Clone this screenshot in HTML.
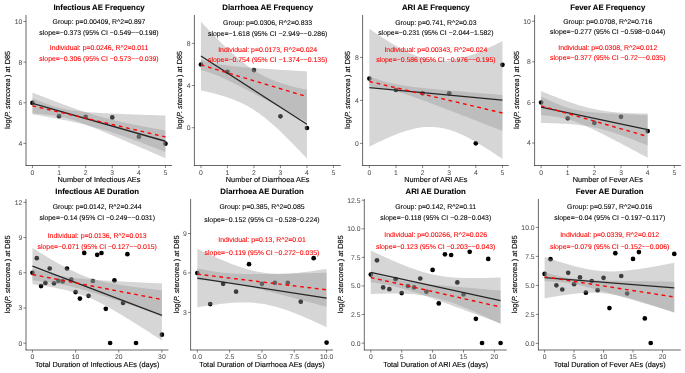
<!DOCTYPE html>
<html><head><meta charset="utf-8"><style>
html,body{margin:0;padding:0;background:#fff;}
svg{display:block;will-change:transform;}
text{font-family:"Liberation Sans", sans-serif;text-rendering:geometricPrecision;}
.ti{font-weight:bold;font-size:7.8px;fill:#000;stroke:#000;stroke-width:0.08px;}
.an{font-size:6.9px;stroke-width:0.08px;}
.al{font-size:7.35px;fill:#000;stroke:#000;stroke-width:0.12px;}
.tk{font-size:6.8px;fill:#4d4d4d;stroke:#4d4d4d;stroke-width:0.03px;}
</style></head><body>
<svg width="685" height="373" viewBox="0 0 685 373">
<rect width="685" height="373" fill="#fff"/>
<circle cx="32.45" cy="102.9" r="2.35" fill="#000"/>
<circle cx="59.05" cy="116.2" r="2.35" fill="#000"/>
<circle cx="85.65" cy="116.9" r="2.35" fill="#000"/>
<circle cx="112.25" cy="117.4" r="2.35" fill="#000"/>
<circle cx="138.85" cy="136.7" r="2.35" fill="#000"/>
<circle cx="165.45" cy="143.7" r="2.35" fill="#000"/>
<polygon points="32.45,92.55 34.67,93.43 36.88,94.3 39.1,95.17 41.32,96.04 43.53,96.9 45.75,97.76 47.97,98.62 50.18,99.47 52.4,100.32 54.62,101.16 56.83,101.99 59.05,102.82 61.27,103.65 63.48,104.47 65.7,105.28 67.92,106.08 70.13,106.88 72.35,107.66 74.57,108.44 76.78,109.21 79,109.96 81.22,110.71 83.43,111.44 85.65,112.16 87.87,112.87 90.08,113.57 92.3,114.25 94.52,114.92 96.73,115.57 98.95,116.21 101.17,116.83 103.38,117.44 105.6,118.04 107.82,118.62 110.03,119.19 112.25,119.74 114.47,120.29 116.68,120.81 118.9,121.33 121.12,121.84 123.33,122.34 125.55,122.82 127.77,123.3 129.98,123.77 132.2,124.23 134.42,124.68 136.63,125.12 138.85,125.56 141.07,126 143.28,126.42 145.5,126.84 147.72,127.26 149.93,127.67 152.15,128.08 154.37,128.48 156.58,128.88 158.8,129.28 161.02,129.67 163.23,130.06 165.45,130.45 165.45,152.05 163.23,151.17 161.02,150.3 158.8,149.43 156.58,148.56 154.37,147.7 152.15,146.84 149.93,145.98 147.72,145.13 145.5,144.28 143.28,143.44 141.07,142.61 138.85,141.78 136.63,140.95 134.42,140.13 132.2,139.32 129.98,138.52 127.77,137.72 125.55,136.94 123.33,136.16 121.12,135.39 118.9,134.64 116.68,133.89 114.47,133.16 112.25,132.44 110.03,131.73 107.82,131.03 105.6,130.35 103.38,129.68 101.17,129.03 98.95,128.39 96.73,127.77 94.52,127.16 92.3,126.56 90.08,125.98 87.87,125.41 85.65,124.86 83.43,124.31 81.22,123.79 79,123.27 76.78,122.76 74.57,122.26 72.35,121.78 70.13,121.3 67.92,120.83 65.7,120.37 63.48,119.92 61.27,119.48 59.05,119.04 56.83,118.6 54.62,118.18 52.4,117.76 50.18,117.34 47.97,116.93 45.75,116.52 43.53,116.12 41.32,115.72 39.1,115.32 36.88,114.93 34.67,114.54 32.45,114.15" fill="#999999" fill-opacity="0.4"/>
<polygon points="32.45,98.31 34.67,99.2 36.88,100.07 39.1,100.94 41.32,101.79 43.53,102.63 45.75,103.44 47.97,104.24 50.18,105.01 52.4,105.75 54.62,106.45 56.83,107.12 59.05,107.74 61.27,108.32 63.48,108.85 65.7,109.33 67.92,109.76 70.13,110.15 72.35,110.5 74.57,110.82 76.78,111.1 79,111.35 81.22,111.58 83.43,111.79 85.65,111.98 87.87,112.16 90.08,112.33 92.3,112.48 94.52,112.62 96.73,112.76 98.95,112.89 101.17,113.01 103.38,113.13 105.6,113.24 107.82,113.35 110.03,113.46 112.25,113.56 114.47,113.66 116.68,113.76 118.9,113.86 121.12,113.95 123.33,114.04 125.55,114.13 127.77,114.22 129.98,114.31 132.2,114.39 134.42,114.48 136.63,114.56 138.85,114.64 141.07,114.72 143.28,114.8 145.5,114.88 147.72,114.96 149.93,115.04 152.15,115.12 154.37,115.2 156.58,115.27 158.8,115.35 161.02,115.43 163.23,115.5 165.45,115.58 165.45,158.26 163.23,157.3 161.02,156.34 158.8,155.37 156.58,154.42 154.37,153.46 152.15,152.5 149.93,151.54 147.72,150.58 145.5,149.62 143.28,148.67 141.07,147.71 138.85,146.76 136.63,145.8 134.42,144.85 132.2,143.9 129.98,142.95 127.77,142 125.55,141.05 123.33,140.1 121.12,139.16 118.9,138.22 116.68,137.28 114.47,136.34 112.25,135.4 110.03,134.47 107.82,133.54 105.6,132.61 103.38,131.69 101.17,130.77 98.95,129.86 96.73,128.95 94.52,128.05 92.3,127.16 90.08,126.28 87.87,125.4 85.65,124.54 83.43,123.7 81.22,122.87 79,122.07 76.78,121.28 74.57,120.53 72.35,119.81 70.13,119.12 67.92,118.47 65.7,117.87 63.48,117.32 61.27,116.81 59.05,116.35 56.83,115.94 54.62,115.57 52.4,115.24 50.18,114.94 47.97,114.67 45.75,114.43 43.53,114.21 41.32,114.01 39.1,113.82 36.88,113.65 34.67,113.49 32.45,113.35" fill="#999999" fill-opacity="0.4"/>
<line x1="32.45" y1="103.35" x2="165.45" y2="141.25" stroke="#262626" stroke-width="1.3"/>
<line x1="32.45" y1="105.83" x2="165.45" y2="136.92" stroke="#ff0000" stroke-width="1.4" stroke-dasharray="3.7 3.7"/>
<line x1="26" y1="15" x2="26" y2="165.8" stroke="#000" stroke-width="0.6"/>
<line x1="25.7" y1="165.5" x2="172.1" y2="165.5" stroke="#000" stroke-width="0.6"/>
<line x1="23.4" y1="143.42" x2="26" y2="143.42" stroke="#333" stroke-width="0.6"/>
<text x="22.2" y="145.82" text-anchor="end" class="tk">4</text>
<line x1="23.4" y1="102.78" x2="26" y2="102.78" stroke="#333" stroke-width="0.6"/>
<text x="22.2" y="105.18" text-anchor="end" class="tk">6</text>
<line x1="23.4" y1="62.14" x2="26" y2="62.14" stroke="#333" stroke-width="0.6"/>
<text x="22.2" y="64.54" text-anchor="end" class="tk">8</text>
<line x1="23.4" y1="21.5" x2="26" y2="21.5" stroke="#333" stroke-width="0.6"/>
<text x="22.2" y="23.9" text-anchor="end" class="tk">10</text>
<line x1="32.45" y1="165.5" x2="32.45" y2="168.1" stroke="#333" stroke-width="0.6"/>
<text x="32.45" y="174.7" text-anchor="middle" class="tk">0</text>
<line x1="59.05" y1="165.5" x2="59.05" y2="168.1" stroke="#333" stroke-width="0.6"/>
<text x="59.05" y="174.7" text-anchor="middle" class="tk">1</text>
<line x1="85.65" y1="165.5" x2="85.65" y2="168.1" stroke="#333" stroke-width="0.6"/>
<text x="85.65" y="174.7" text-anchor="middle" class="tk">2</text>
<line x1="112.25" y1="165.5" x2="112.25" y2="168.1" stroke="#333" stroke-width="0.6"/>
<text x="112.25" y="174.7" text-anchor="middle" class="tk">3</text>
<line x1="138.85" y1="165.5" x2="138.85" y2="168.1" stroke="#333" stroke-width="0.6"/>
<text x="138.85" y="174.7" text-anchor="middle" class="tk">4</text>
<line x1="165.45" y1="165.5" x2="165.45" y2="168.1" stroke="#333" stroke-width="0.6"/>
<text x="165.45" y="174.7" text-anchor="middle" class="tk">5</text>
<text x="99" y="9.7" text-anchor="middle" class="ti">Infectious AE Frequency</text>
<text x="99" y="24.25" text-anchor="middle" class="an" fill="#000000" stroke="#000000">Group: p=0.00409, R^2=0.897</text>
<text x="99" y="34.65" text-anchor="middle" class="an" fill="#000000" stroke="#000000">slope=−0.373 (95% CI −0.549−−0.198)</text>
<text x="99" y="49.8" text-anchor="middle" class="an" fill="#ff0000" stroke="#ff0000">Individual: p=0.0246, R^2=0.011</text>
<text x="99" y="60.5" text-anchor="middle" class="an" fill="#ff0000" stroke="#ff0000">slope=−0.306 (95% CI −0.573−−0.039)</text>
<text x="99" y="182.2" text-anchor="middle" class="al">Number of Infectious AEs</text>
<text transform="translate(10,90) rotate(-90)" text-anchor="middle" class="al" textLength="78.2" lengthAdjust="spacingAndGlyphs">log(<tspan font-style="italic">P. stercorea</tspan> ) at D85</text>
<circle cx="200.95" cy="64.5" r="2.35" fill="#000"/>
<circle cx="227.45" cy="71.8" r="2.35" fill="#000"/>
<circle cx="253.95" cy="70.1" r="2.35" fill="#000"/>
<circle cx="280.45" cy="116.3" r="2.35" fill="#000"/>
<circle cx="306.95" cy="128" r="2.35" fill="#000"/>
<polygon points="200.95,21.66 202.72,23.55 204.48,25.44 206.25,27.32 208.02,29.19 209.78,31.04 211.55,32.89 213.32,34.72 215.08,36.53 216.85,38.34 218.62,40.12 220.38,41.89 222.15,43.65 223.92,45.38 225.68,47.09 227.45,48.78 229.22,50.44 230.98,52.08 232.75,53.69 234.52,55.28 236.28,56.83 238.05,58.35 239.82,59.83 241.58,61.28 243.35,62.69 245.12,64.06 246.88,65.4 248.65,66.68 250.42,67.93 252.18,69.13 253.95,70.29 255.72,71.41 257.48,72.48 259.25,73.51 261.02,74.49 262.78,75.43 264.55,76.34 266.32,77.2 268.08,78.02 269.85,78.81 271.62,79.57 273.38,80.29 275.15,80.98 276.92,81.64 278.68,82.28 280.45,82.89 282.22,83.47 283.98,84.03 285.75,84.58 287.52,85.1 289.28,85.6 291.05,86.09 292.82,86.56 294.58,87.02 296.35,87.46 298.12,87.89 299.88,88.3 301.65,88.71 303.42,89.11 305.18,89.49 306.95,89.87 306.95,158.62 305.18,156.73 303.42,154.84 301.65,152.96 299.88,151.09 298.12,149.24 296.35,147.39 294.58,145.56 292.82,143.75 291.05,141.94 289.28,140.16 287.52,138.39 285.75,136.63 283.98,134.9 282.22,133.19 280.45,131.5 278.68,129.84 276.92,128.2 275.15,126.59 273.38,125 271.62,123.45 269.85,121.93 268.08,120.45 266.32,119 264.55,117.59 262.78,116.22 261.02,114.88 259.25,113.6 257.48,112.35 255.72,111.15 253.95,109.99 252.18,108.87 250.42,107.8 248.65,106.77 246.88,105.79 245.12,104.85 243.35,103.94 241.58,103.08 239.82,102.26 238.05,101.47 236.28,100.71 234.52,99.99 232.75,99.3 230.98,98.64 229.22,98 227.45,97.39 225.68,96.81 223.92,96.25 222.15,95.7 220.38,95.18 218.62,94.68 216.85,94.19 215.08,93.72 213.32,93.26 211.55,92.82 209.78,92.39 208.02,91.98 206.25,91.57 204.48,91.17 202.72,90.79 200.95,90.41" fill="#999999" fill-opacity="0.4"/>
<polygon points="200.95,59.61 202.72,60.24 204.48,60.82 206.25,61.38 208.02,61.89 209.78,62.37 211.55,62.81 213.32,63.22 215.08,63.59 216.85,63.94 218.62,64.26 220.38,64.56 222.15,64.84 223.92,65.09 225.68,65.33 227.45,65.56 229.22,65.77 230.98,65.97 232.75,66.17 234.52,66.35 236.28,66.53 238.05,66.69 239.82,66.86 241.58,67.01 243.35,67.17 245.12,67.31 246.88,67.46 248.65,67.6 250.42,67.74 252.18,67.87 253.95,68 255.72,68.13 257.48,68.26 259.25,68.38 261.02,68.51 262.78,68.63 264.55,68.75 266.32,68.87 268.08,68.99 269.85,69.1 271.62,69.22 273.38,69.33 275.15,69.45 276.92,69.56 278.68,69.67 280.45,69.78 282.22,69.89 283.98,70 285.75,70.11 287.52,70.22 289.28,70.33 291.05,70.43 292.82,70.54 294.58,70.65 296.35,70.75 298.12,70.86 299.88,70.96 301.65,71.07 303.42,71.17 305.18,71.27 306.95,71.38 306.95,121.96 305.18,121.01 303.42,120.05 301.65,119.09 299.88,118.14 298.12,117.19 296.35,116.23 294.58,115.28 292.82,114.32 291.05,113.37 289.28,112.42 287.52,111.47 285.75,110.52 283.98,109.56 282.22,108.61 280.45,107.66 278.68,106.72 276.92,105.77 275.15,104.82 273.38,103.87 271.62,102.93 269.85,101.99 268.08,101.04 266.32,100.1 264.55,99.16 262.78,98.22 261.02,97.28 259.25,96.35 257.48,95.41 255.72,94.48 253.95,93.55 252.18,92.62 250.42,91.7 248.65,90.77 246.88,89.86 245.12,88.94 243.35,88.03 241.58,87.12 239.82,86.22 238.05,85.32 236.28,84.43 234.52,83.55 232.75,82.67 230.98,81.8 229.22,80.94 227.45,80.1 225.68,79.26 223.92,78.45 222.15,77.64 220.38,76.86 218.62,76.1 216.85,75.36 215.08,74.65 213.32,73.96 211.55,73.31 209.78,72.69 208.02,72.11 206.25,71.57 204.48,71.06 202.72,70.59 200.95,70.15" fill="#999999" fill-opacity="0.4"/>
<line x1="200.95" y1="56.03" x2="306.95" y2="124.25" stroke="#262626" stroke-width="1.3"/>
<line x1="200.95" y1="64.88" x2="306.95" y2="96.67" stroke="#ff0000" stroke-width="1.4" stroke-dasharray="3.7 3.7"/>
<line x1="194.4" y1="15" x2="194.4" y2="165.8" stroke="#000" stroke-width="0.6"/>
<line x1="194.1" y1="165.5" x2="340.8" y2="165.5" stroke="#000" stroke-width="0.6"/>
<line x1="191.8" y1="127.7" x2="194.4" y2="127.7" stroke="#333" stroke-width="0.6"/>
<text x="190.6" y="130.1" text-anchor="end" class="tk">0</text>
<line x1="191.8" y1="85.54" x2="194.4" y2="85.54" stroke="#333" stroke-width="0.6"/>
<text x="190.6" y="87.94" text-anchor="end" class="tk">4</text>
<line x1="191.8" y1="43.38" x2="194.4" y2="43.38" stroke="#333" stroke-width="0.6"/>
<text x="190.6" y="45.78" text-anchor="end" class="tk">8</text>
<line x1="200.95" y1="165.5" x2="200.95" y2="168.1" stroke="#333" stroke-width="0.6"/>
<text x="200.95" y="174.7" text-anchor="middle" class="tk">0</text>
<line x1="227.45" y1="165.5" x2="227.45" y2="168.1" stroke="#333" stroke-width="0.6"/>
<text x="227.45" y="174.7" text-anchor="middle" class="tk">1</text>
<line x1="253.95" y1="165.5" x2="253.95" y2="168.1" stroke="#333" stroke-width="0.6"/>
<text x="253.95" y="174.7" text-anchor="middle" class="tk">2</text>
<line x1="280.45" y1="165.5" x2="280.45" y2="168.1" stroke="#333" stroke-width="0.6"/>
<text x="280.45" y="174.7" text-anchor="middle" class="tk">3</text>
<line x1="306.95" y1="165.5" x2="306.95" y2="168.1" stroke="#333" stroke-width="0.6"/>
<text x="306.95" y="174.7" text-anchor="middle" class="tk">4</text>
<line x1="333.45" y1="165.5" x2="333.45" y2="168.1" stroke="#333" stroke-width="0.6"/>
<text x="333.45" y="174.7" text-anchor="middle" class="tk">5</text>
<text x="267.65" y="9.7" text-anchor="middle" class="ti">Diarrhoea AE Frequency</text>
<text x="267.65" y="25.1" text-anchor="middle" class="an" fill="#000000" stroke="#000000">Group: p=0.0306, R^2=0.833</text>
<text x="267.65" y="35.6" text-anchor="middle" class="an" fill="#000000" stroke="#000000">slope=−1.618 (95% CI −2.949−−0.286)</text>
<text x="267.65" y="51.65" text-anchor="middle" class="an" fill="#ff0000" stroke="#ff0000">Individual: p=0.0173, R^2=0.024</text>
<text x="267.65" y="62.1" text-anchor="middle" class="an" fill="#ff0000" stroke="#ff0000">slope=−0.754 (95% CI −1.374−−0.135)</text>
<text x="267.65" y="182.2" text-anchor="middle" class="al">Number of Diarrhoea AEs</text>
<text transform="translate(182,90) rotate(-90)" text-anchor="middle" class="al" textLength="78.2" lengthAdjust="spacingAndGlyphs">log(<tspan font-style="italic">P. stercorea</tspan> ) at D85</text>
<circle cx="369.35" cy="78.6" r="2.35" fill="#000"/>
<circle cx="395.97" cy="90" r="2.35" fill="#000"/>
<circle cx="422.59" cy="93.3" r="2.35" fill="#000"/>
<circle cx="449.21" cy="93.3" r="2.35" fill="#000"/>
<circle cx="475.83" cy="143.3" r="2.35" fill="#000"/>
<circle cx="502.45" cy="64.8" r="2.35" fill="#000"/>
<polygon points="369.35,28.67 371.57,30.21 373.79,31.73 376,33.24 378.22,34.73 380.44,36.21 382.66,37.66 384.88,39.09 387.1,40.5 389.31,41.88 391.53,43.24 393.75,44.56 395.97,45.86 398.19,47.12 400.41,48.34 402.62,49.53 404.84,50.68 407.06,51.78 409.28,52.83 411.5,53.83 413.72,54.78 415.94,55.67 418.15,56.5 420.37,57.26 422.59,57.96 424.81,58.59 427.03,59.14 429.25,59.62 431.46,60.03 433.68,60.35 435.9,60.6 438.12,60.77 440.34,60.85 442.56,60.86 444.77,60.8 446.99,60.66 449.21,60.44 451.43,60.16 453.65,59.81 455.87,59.39 458.08,58.92 460.3,58.38 462.52,57.8 464.74,57.16 466.96,56.47 469.18,55.74 471.39,54.97 473.61,54.16 475.83,53.31 478.05,52.43 480.27,51.51 482.49,50.57 484.7,49.6 486.92,48.61 489.14,47.59 491.36,46.55 493.58,45.49 495.8,44.42 498.01,43.32 500.23,42.21 502.45,41.08 502.45,159.1 500.23,157.56 498.01,156.03 495.8,154.52 493.58,153.03 491.36,151.56 489.14,150.11 486.92,148.68 484.7,147.27 482.49,145.89 480.27,144.53 478.05,143.2 475.83,141.91 473.61,140.65 471.39,139.42 469.18,138.24 466.96,137.09 464.74,135.99 462.52,134.94 460.3,133.94 458.08,132.99 455.87,132.1 453.65,131.27 451.43,130.51 449.21,129.81 446.99,129.18 444.77,128.62 442.56,128.14 440.34,127.74 438.12,127.41 435.9,127.17 433.68,127 431.46,126.91 429.25,126.9 427.03,126.97 424.81,127.11 422.59,127.32 420.37,127.61 418.15,127.96 415.94,128.37 413.72,128.85 411.5,129.38 409.28,129.97 407.06,130.61 404.84,131.3 402.62,132.03 400.41,132.8 398.19,133.61 395.97,134.46 393.75,135.34 391.53,136.25 389.31,137.19 387.1,138.16 384.88,139.16 382.66,140.17 380.44,141.21 378.22,142.27 376,143.35 373.79,144.44 371.57,145.56 369.35,146.68" fill="#999999" fill-opacity="0.4"/>
<polygon points="369.35,76.64 371.57,77.4 373.79,78.14 376,78.87 378.22,79.58 380.44,80.26 382.66,80.92 384.88,81.55 387.1,82.15 389.31,82.71 391.53,83.24 393.75,83.73 395.97,84.19 398.19,84.62 400.41,85.02 402.62,85.39 404.84,85.74 407.06,86.06 409.28,86.37 411.5,86.66 413.72,86.94 415.94,87.21 418.15,87.46 420.37,87.71 422.59,87.95 424.81,88.19 427.03,88.42 429.25,88.64 431.46,88.86 433.68,89.07 435.9,89.29 438.12,89.5 440.34,89.7 442.56,89.91 444.77,90.11 446.99,90.31 449.21,90.51 451.43,90.7 453.65,90.9 455.87,91.09 458.08,91.29 460.3,91.48 462.52,91.67 464.74,91.86 466.96,92.05 469.18,92.24 471.39,92.43 473.61,92.61 475.83,92.8 478.05,92.99 480.27,93.17 482.49,93.36 484.7,93.54 486.92,93.73 489.14,93.91 491.36,94.09 493.58,94.28 495.8,94.46 498.01,94.64 500.23,94.82 502.45,95 502.45,130.95 500.23,130.08 498.01,129.21 495.8,128.35 493.58,127.48 491.36,126.61 489.14,125.75 486.92,124.88 484.7,124.01 482.49,123.15 480.27,122.28 478.05,121.42 475.83,120.56 473.61,119.69 471.39,118.83 469.18,117.97 466.96,117.11 464.74,116.25 462.52,115.39 460.3,114.53 458.08,113.67 455.87,112.81 453.65,111.96 451.43,111.1 449.21,110.25 446.99,109.4 444.77,108.55 442.56,107.7 440.34,106.86 438.12,106.01 435.9,105.17 433.68,104.33 431.46,103.5 429.25,102.67 427.03,101.84 424.81,101.02 422.59,100.21 420.37,99.4 418.15,98.59 415.94,97.8 413.72,97.02 411.5,96.25 409.28,95.49 407.06,94.75 404.84,94.02 402.62,93.32 400.41,92.64 398.19,91.99 395.97,91.37 393.75,90.78 391.53,90.22 389.31,89.7 387.1,89.21 384.88,88.76 382.66,88.34 380.44,87.95 378.22,87.58 376,87.24 373.79,86.91 371.57,86.61 369.35,86.32" fill="#999999" fill-opacity="0.4"/>
<line x1="369.35" y1="87.68" x2="502.45" y2="100.09" stroke="#262626" stroke-width="1.3"/>
<line x1="369.35" y1="81.48" x2="502.45" y2="112.98" stroke="#ff0000" stroke-width="1.4" stroke-dasharray="3.7 3.7"/>
<line x1="362.6" y1="15" x2="362.6" y2="165.8" stroke="#000" stroke-width="0.6"/>
<line x1="362.3" y1="165.5" x2="508.8" y2="165.5" stroke="#000" stroke-width="0.6"/>
<line x1="360" y1="143.4" x2="362.6" y2="143.4" stroke="#333" stroke-width="0.6"/>
<text x="358.8" y="145.8" text-anchor="end" class="tk">0</text>
<line x1="360" y1="100.4" x2="362.6" y2="100.4" stroke="#333" stroke-width="0.6"/>
<text x="358.8" y="102.8" text-anchor="end" class="tk">4</text>
<line x1="360" y1="57.4" x2="362.6" y2="57.4" stroke="#333" stroke-width="0.6"/>
<text x="358.8" y="59.8" text-anchor="end" class="tk">8</text>
<line x1="369.35" y1="165.5" x2="369.35" y2="168.1" stroke="#333" stroke-width="0.6"/>
<text x="369.35" y="174.7" text-anchor="middle" class="tk">0</text>
<line x1="395.97" y1="165.5" x2="395.97" y2="168.1" stroke="#333" stroke-width="0.6"/>
<text x="395.97" y="174.7" text-anchor="middle" class="tk">1</text>
<line x1="422.59" y1="165.5" x2="422.59" y2="168.1" stroke="#333" stroke-width="0.6"/>
<text x="422.59" y="174.7" text-anchor="middle" class="tk">2</text>
<line x1="449.21" y1="165.5" x2="449.21" y2="168.1" stroke="#333" stroke-width="0.6"/>
<text x="449.21" y="174.7" text-anchor="middle" class="tk">3</text>
<line x1="475.83" y1="165.5" x2="475.83" y2="168.1" stroke="#333" stroke-width="0.6"/>
<text x="475.83" y="174.7" text-anchor="middle" class="tk">4</text>
<line x1="502.45" y1="165.5" x2="502.45" y2="168.1" stroke="#333" stroke-width="0.6"/>
<text x="502.45" y="174.7" text-anchor="middle" class="tk">5</text>
<text x="435.85" y="9.7" text-anchor="middle" class="ti">ARI AE Frequency</text>
<text x="435.85" y="25" text-anchor="middle" class="an" fill="#000000" stroke="#000000">Group: p=0.741, R^2=0.03</text>
<text x="435.85" y="35.3" text-anchor="middle" class="an" fill="#000000" stroke="#000000">slope=−0.231 (95% CI −2.044−1.582)</text>
<text x="435.85" y="51.5" text-anchor="middle" class="an" fill="#ff0000" stroke="#ff0000">Individual: p=0.00343, R^2=0.024</text>
<text x="435.85" y="62.25" text-anchor="middle" class="an" fill="#ff0000" stroke="#ff0000">slope=−0.586 (95% CI −0.976−−0.195)</text>
<text x="435.85" y="182.2" text-anchor="middle" class="al">Number of ARI AEs</text>
<text transform="translate(350.4,90) rotate(-90)" text-anchor="middle" class="al" textLength="78.2" lengthAdjust="spacingAndGlyphs">log(<tspan font-style="italic">P. stercorea</tspan> ) at D85</text>
<circle cx="541.1" cy="102.5" r="2.35" fill="#000"/>
<circle cx="567.74" cy="118.3" r="2.35" fill="#000"/>
<circle cx="594.38" cy="122.9" r="2.35" fill="#000"/>
<circle cx="621.02" cy="116.8" r="2.35" fill="#000"/>
<circle cx="647.66" cy="131.1" r="2.35" fill="#000"/>
<polygon points="541.1,91.11 542.88,91.84 544.65,92.56 546.43,93.28 548.2,94 549.98,94.7 551.76,95.41 553.53,96.11 555.31,96.8 557.08,97.48 558.86,98.16 560.64,98.83 562.41,99.49 564.19,100.14 565.96,100.78 567.74,101.41 569.52,102.03 571.29,102.64 573.07,103.23 574.84,103.82 576.62,104.38 578.4,104.94 580.17,105.47 581.95,105.99 583.72,106.49 585.5,106.98 587.28,107.44 589.05,107.89 590.83,108.31 592.6,108.72 594.38,109.1 596.16,109.47 597.93,109.81 599.71,110.14 601.48,110.44 603.26,110.73 605.04,110.99 606.81,111.24 608.59,111.47 610.36,111.68 612.14,111.88 613.92,112.06 615.69,112.23 617.47,112.39 619.24,112.53 621.02,112.66 622.8,112.78 624.57,112.88 626.35,112.98 628.12,113.07 629.9,113.15 631.68,113.23 633.45,113.29 635.23,113.35 637,113.4 638.78,113.45 640.56,113.49 642.33,113.53 644.11,113.56 645.88,113.58 647.66,113.6 647.66,145.53 645.88,144.8 644.11,144.08 642.33,143.36 640.56,142.64 638.78,141.94 637,141.23 635.23,140.53 633.45,139.84 631.68,139.16 629.9,138.48 628.12,137.81 626.35,137.15 624.57,136.5 622.8,135.86 621.02,135.23 619.24,134.61 617.47,134 615.69,133.41 613.92,132.82 612.14,132.26 610.36,131.7 608.59,131.17 606.81,130.65 605.04,130.15 603.26,129.66 601.48,129.2 599.71,128.75 597.93,128.33 596.16,127.92 594.38,127.54 592.6,127.17 590.83,126.83 589.05,126.5 587.28,126.2 585.5,125.91 583.72,125.65 581.95,125.4 580.17,125.17 578.4,124.96 576.62,124.76 574.84,124.58 573.07,124.41 571.29,124.25 569.52,124.11 567.74,123.98 565.96,123.86 564.19,123.76 562.41,123.66 560.64,123.57 558.86,123.49 557.08,123.41 555.31,123.35 553.53,123.29 551.76,123.24 549.98,123.19 548.2,123.15 546.43,123.11 544.65,123.08 542.88,123.06 541.1,123.04" fill="#999999" fill-opacity="0.4"/>
<polygon points="541.1,96.54 542.88,97.41 544.65,98.27 546.43,99.12 548.2,99.95 549.98,100.77 551.76,101.58 553.53,102.37 555.31,103.13 557.08,103.87 558.86,104.59 560.64,105.28 562.41,105.94 564.19,106.57 565.96,107.16 567.74,107.72 569.52,108.24 571.29,108.72 573.07,109.17 574.84,109.58 576.62,109.95 578.4,110.3 580.17,110.61 581.95,110.9 583.72,111.17 585.5,111.41 587.28,111.64 589.05,111.85 590.83,112.04 592.6,112.22 594.38,112.38 596.16,112.54 597.93,112.69 599.71,112.82 601.48,112.96 603.26,113.08 605.04,113.2 606.81,113.31 608.59,113.42 610.36,113.52 612.14,113.62 613.92,113.72 615.69,113.81 617.47,113.9 619.24,113.99 621.02,114.07 622.8,114.16 624.57,114.24 626.35,114.32 628.12,114.39 629.9,114.47 631.68,114.54 633.45,114.61 635.23,114.69 637,114.76 638.78,114.82 640.56,114.89 642.33,114.96 644.11,115.03 645.88,115.09 647.66,115.16 647.66,157.77 645.88,156.82 644.11,155.86 642.33,154.91 640.56,153.95 638.78,153 637,152.05 635.23,151.1 633.45,150.15 631.68,149.2 629.9,148.25 628.12,147.31 626.35,146.37 624.57,145.42 622.8,144.48 621.02,143.55 619.24,142.61 617.47,141.68 615.69,140.75 613.92,139.82 612.14,138.9 610.36,137.98 608.59,137.06 606.81,136.15 605.04,135.24 603.26,134.34 601.48,133.44 599.71,132.55 597.93,131.67 596.16,130.8 594.38,129.93 592.6,129.08 590.83,128.24 589.05,127.41 587.28,126.59 585.5,125.8 583.72,125.02 581.95,124.27 580.17,123.54 578.4,122.83 576.62,122.16 574.84,121.51 573.07,120.9 571.29,120.33 569.52,119.79 567.74,119.29 565.96,118.83 564.19,118.4 562.41,118 560.64,117.64 558.86,117.31 557.08,117.01 555.31,116.73 553.53,116.48 551.76,116.25 549.98,116.03 548.2,115.83 546.43,115.64 544.65,115.47 542.88,115.31 541.1,115.16" fill="#999999" fill-opacity="0.4"/>
<line x1="541.1" y1="107.07" x2="647.66" y2="129.57" stroke="#262626" stroke-width="1.3"/>
<line x1="541.1" y1="105.85" x2="647.66" y2="136.46" stroke="#ff0000" stroke-width="1.4" stroke-dasharray="3.7 3.7"/>
<line x1="534.6" y1="15" x2="534.6" y2="165.8" stroke="#000" stroke-width="0.6"/>
<line x1="534.3" y1="165.5" x2="680.9" y2="165.5" stroke="#000" stroke-width="0.6"/>
<line x1="532" y1="143" x2="534.6" y2="143" stroke="#333" stroke-width="0.6"/>
<text x="530.8" y="145.4" text-anchor="end" class="tk">4</text>
<line x1="532" y1="102.4" x2="534.6" y2="102.4" stroke="#333" stroke-width="0.6"/>
<text x="530.8" y="104.8" text-anchor="end" class="tk">6</text>
<line x1="532" y1="61.8" x2="534.6" y2="61.8" stroke="#333" stroke-width="0.6"/>
<text x="530.8" y="64.2" text-anchor="end" class="tk">8</text>
<line x1="532" y1="21.2" x2="534.6" y2="21.2" stroke="#333" stroke-width="0.6"/>
<text x="530.8" y="23.6" text-anchor="end" class="tk">10</text>
<line x1="541.1" y1="165.5" x2="541.1" y2="168.1" stroke="#333" stroke-width="0.6"/>
<text x="541.1" y="174.7" text-anchor="middle" class="tk">0</text>
<line x1="567.74" y1="165.5" x2="567.74" y2="168.1" stroke="#333" stroke-width="0.6"/>
<text x="567.74" y="174.7" text-anchor="middle" class="tk">1</text>
<line x1="594.38" y1="165.5" x2="594.38" y2="168.1" stroke="#333" stroke-width="0.6"/>
<text x="594.38" y="174.7" text-anchor="middle" class="tk">2</text>
<line x1="621.02" y1="165.5" x2="621.02" y2="168.1" stroke="#333" stroke-width="0.6"/>
<text x="621.02" y="174.7" text-anchor="middle" class="tk">3</text>
<line x1="647.66" y1="165.5" x2="647.66" y2="168.1" stroke="#333" stroke-width="0.6"/>
<text x="647.66" y="174.7" text-anchor="middle" class="tk">4</text>
<line x1="674.3" y1="165.5" x2="674.3" y2="168.1" stroke="#333" stroke-width="0.6"/>
<text x="674.3" y="174.7" text-anchor="middle" class="tk">5</text>
<text x="607.75" y="9.65" text-anchor="middle" class="ti">Fever AE Frequency</text>
<text x="607.75" y="24.1" text-anchor="middle" class="an" fill="#000000" stroke="#000000">Group: p=0.0708, R^2=0.716</text>
<text x="607.75" y="34.1" text-anchor="middle" class="an" fill="#000000" stroke="#000000">slope=−0.277 (95% CI −0.598−0.044)</text>
<text x="607.75" y="49.6" text-anchor="middle" class="an" fill="#ff0000" stroke="#ff0000">Individual: p=0.0308, R^2=0.012</text>
<text x="607.75" y="59.9" text-anchor="middle" class="an" fill="#ff0000" stroke="#ff0000">slope=−0.377 (95% CI −0.72−−0.035)</text>
<text x="607.75" y="182.2" text-anchor="middle" class="al">Number of Fever AEs</text>
<text transform="translate(518.7,90) rotate(-90)" text-anchor="middle" class="al" textLength="78.2" lengthAdjust="spacingAndGlyphs">log(<tspan font-style="italic">P. stercorea</tspan> ) at D85</text>
<circle cx="32.45" cy="272.8" r="2.35" fill="#000"/>
<circle cx="36.77" cy="258.2" r="2.35" fill="#000"/>
<circle cx="41.08" cy="286.1" r="2.35" fill="#000"/>
<circle cx="45.4" cy="282.9" r="2.35" fill="#000"/>
<circle cx="49.71" cy="268.5" r="2.35" fill="#000"/>
<circle cx="54.03" cy="283.3" r="2.35" fill="#000"/>
<circle cx="58.34" cy="280.8" r="2.35" fill="#000"/>
<circle cx="62.66" cy="281.4" r="2.35" fill="#000"/>
<circle cx="66.97" cy="268.5" r="2.35" fill="#000"/>
<circle cx="71.28" cy="279.7" r="2.35" fill="#000"/>
<circle cx="75.6" cy="292.1" r="2.35" fill="#000"/>
<circle cx="79.92" cy="298.6" r="2.35" fill="#000"/>
<circle cx="84.23" cy="252.9" r="2.35" fill="#000"/>
<circle cx="88.55" cy="295.8" r="2.35" fill="#000"/>
<circle cx="92.86" cy="281" r="2.35" fill="#000"/>
<circle cx="97.18" cy="254.8" r="2.35" fill="#000"/>
<circle cx="101.49" cy="253" r="2.35" fill="#000"/>
<circle cx="105.81" cy="308.8" r="2.35" fill="#000"/>
<circle cx="110.12" cy="343" r="2.35" fill="#000"/>
<circle cx="114.44" cy="280.4" r="2.35" fill="#000"/>
<circle cx="123.07" cy="302.9" r="2.35" fill="#000"/>
<circle cx="127.38" cy="254.2" r="2.35" fill="#000"/>
<circle cx="136.01" cy="343" r="2.35" fill="#000"/>
<circle cx="161.9" cy="334.7" r="2.35" fill="#000"/>
<polygon points="32.45,247.84 34.61,249.2 36.77,250.54 38.92,251.88 41.08,253.22 43.24,254.54 45.4,255.85 47.55,257.15 49.71,258.44 51.87,259.71 54.03,260.97 56.18,262.21 58.34,263.43 60.5,264.63 62.66,265.81 64.81,266.96 66.97,268.09 69.13,269.19 71.28,270.26 73.44,271.29 75.6,272.29 77.76,273.25 79.92,274.17 82.07,275.05 84.23,275.88 86.39,276.68 88.55,277.44 90.7,278.16 92.86,278.83 95.02,279.47 97.18,280.08 99.33,280.65 101.49,281.19 103.65,281.7 105.81,282.19 107.96,282.65 110.12,283.09 112.28,283.51 114.44,283.91 116.59,284.29 118.75,284.66 120.91,285.01 123.07,285.35 125.22,285.68 127.38,286 129.54,286.31 131.69,286.62 133.85,286.91 136.01,287.2 138.17,287.48 140.33,287.75 142.48,288.02 144.64,288.28 146.8,288.54 148.96,288.8 151.11,289.05 153.27,289.3 155.43,289.54 157.59,289.78 159.74,290.02 161.9,290.25 161.9,340.5 159.74,339.09 157.59,337.69 155.43,336.28 153.27,334.89 151.11,333.49 148.96,332.1 146.8,330.71 144.64,329.32 142.48,327.94 140.33,326.57 138.17,325.2 136.01,323.84 133.85,322.48 131.69,321.13 129.54,319.79 127.38,318.46 125.22,317.13 123.07,315.82 120.91,314.52 118.75,313.23 116.59,311.95 114.44,310.69 112.28,309.45 110.12,308.22 107.96,307.02 105.81,305.84 103.65,304.68 101.49,303.55 99.33,302.44 97.18,301.37 95.02,300.33 92.86,299.33 90.7,298.36 88.55,297.43 86.39,296.55 84.23,295.7 82.07,294.9 79.92,294.13 77.76,293.41 75.6,292.73 73.44,292.08 71.28,291.47 69.13,290.89 66.97,290.35 64.81,289.83 62.66,289.34 60.5,288.88 58.34,288.43 56.18,288.01 54.03,287.61 51.87,287.22 49.71,286.85 47.55,286.5 45.4,286.15 43.24,285.82 41.08,285.5 38.92,285.19 36.77,284.88 34.61,284.59 32.45,284.3" fill="#999999" fill-opacity="0.4"/>
<polygon points="32.45,268.65 34.61,269.3 36.77,269.94 38.92,270.56 41.08,271.17 43.24,271.77 45.4,272.35 47.55,272.91 49.71,273.45 51.87,273.97 54.03,274.47 56.18,274.95 58.34,275.39 60.5,275.82 62.66,276.21 64.81,276.58 66.97,276.93 69.13,277.25 71.28,277.55 73.44,277.83 75.6,278.09 77.76,278.33 79.92,278.56 82.07,278.77 84.23,278.98 86.39,279.17 88.55,279.35 90.7,279.52 92.86,279.69 95.02,279.85 97.18,280 99.33,280.15 101.49,280.29 103.65,280.43 105.81,280.57 107.96,280.7 110.12,280.83 112.28,280.95 114.44,281.08 116.59,281.2 118.75,281.32 120.91,281.43 123.07,281.55 125.22,281.66 127.38,281.78 129.54,281.89 131.69,282 133.85,282.1 136.01,282.21 138.17,282.32 140.33,282.42 142.48,282.53 144.64,282.63 146.8,282.74 148.96,282.84 151.11,282.94 153.27,283.04 155.43,283.14 157.59,283.24 159.74,283.34 161.9,283.44 161.9,315.61 159.74,314.88 157.59,314.14 155.43,313.41 153.27,312.68 151.11,311.95 148.96,311.21 146.8,310.48 144.64,309.75 142.48,309.02 140.33,308.29 138.17,307.57 136.01,306.84 133.85,306.11 131.69,305.39 129.54,304.67 127.38,303.94 125.22,303.22 123.07,302.5 120.91,301.78 118.75,301.07 116.59,300.35 114.44,299.64 112.28,298.93 110.12,298.22 107.96,297.52 105.81,296.82 103.65,296.12 101.49,295.42 99.33,294.73 97.18,294.05 95.02,293.37 92.86,292.69 90.7,292.03 88.55,291.37 86.39,290.71 84.23,290.07 82.07,289.44 79.92,288.82 77.76,288.22 75.6,287.63 73.44,287.05 71.28,286.5 69.13,285.96 66.97,285.45 64.81,284.96 62.66,284.5 60.5,284.06 58.34,283.65 56.18,283.26 54.03,282.9 51.87,282.57 49.71,282.26 47.55,281.97 45.4,281.69 43.24,281.44 41.08,281.2 38.92,280.98 36.77,280.77 34.61,280.58 32.45,280.39" fill="#999999" fill-opacity="0.4"/>
<line x1="32.45" y1="266.07" x2="161.9" y2="315.38" stroke="#262626" stroke-width="1.3"/>
<line x1="32.45" y1="274.52" x2="161.9" y2="299.53" stroke="#ff0000" stroke-width="1.4" stroke-dasharray="3.7 3.7"/>
<line x1="26" y1="199" x2="26" y2="350.3" stroke="#000" stroke-width="0.6"/>
<line x1="25.7" y1="350" x2="168.4" y2="350" stroke="#000" stroke-width="0.6"/>
<line x1="23.4" y1="343.2" x2="26" y2="343.2" stroke="#333" stroke-width="0.6"/>
<text x="22.2" y="345.6" text-anchor="end" class="tk">0</text>
<line x1="23.4" y1="307.98" x2="26" y2="307.98" stroke="#333" stroke-width="0.6"/>
<text x="22.2" y="310.38" text-anchor="end" class="tk">3</text>
<line x1="23.4" y1="272.76" x2="26" y2="272.76" stroke="#333" stroke-width="0.6"/>
<text x="22.2" y="275.16" text-anchor="end" class="tk">6</text>
<line x1="23.4" y1="237.54" x2="26" y2="237.54" stroke="#333" stroke-width="0.6"/>
<text x="22.2" y="239.94" text-anchor="end" class="tk">9</text>
<line x1="23.4" y1="202.32" x2="26" y2="202.32" stroke="#333" stroke-width="0.6"/>
<text x="22.2" y="204.72" text-anchor="end" class="tk">12</text>
<line x1="32.45" y1="350" x2="32.45" y2="352.6" stroke="#333" stroke-width="0.6"/>
<text x="32.45" y="359.2" text-anchor="middle" class="tk">0</text>
<line x1="75.6" y1="350" x2="75.6" y2="352.6" stroke="#333" stroke-width="0.6"/>
<text x="75.6" y="359.2" text-anchor="middle" class="tk">10</text>
<line x1="118.75" y1="350" x2="118.75" y2="352.6" stroke="#333" stroke-width="0.6"/>
<text x="118.75" y="359.2" text-anchor="middle" class="tk">20</text>
<line x1="161.9" y1="350" x2="161.9" y2="352.6" stroke="#333" stroke-width="0.6"/>
<text x="161.9" y="359.2" text-anchor="middle" class="tk">30</text>
<text x="97.2" y="193.85" text-anchor="middle" class="ti">Infectious AE Duration</text>
<text x="97.2" y="208.8" text-anchor="middle" class="an" fill="#000000" stroke="#000000">Group: p=0.0142, R^2=0.244</text>
<text x="97.2" y="220.05" text-anchor="middle" class="an" fill="#000000" stroke="#000000">slope=−0.14 (95% CI −0.249−−0.031)</text>
<text x="97.2" y="238.1" text-anchor="middle" class="an" fill="#ff0000" stroke="#ff0000">Individual: p=0.0136, R^2=0.013</text>
<text x="97.2" y="249.3" text-anchor="middle" class="an" fill="#ff0000" stroke="#ff0000">slope=−0.071 (95% CI −0.127−−0.015)</text>
<text x="97.2" y="366.8" text-anchor="middle" class="al">Total Duration of Infectious AEs (days)</text>
<text transform="translate(10,274.4) rotate(-90)" text-anchor="middle" class="al" textLength="78.2" lengthAdjust="spacingAndGlyphs">log(<tspan font-style="italic">P. stercorea</tspan> ) at D85</text>
<circle cx="197.3" cy="273.1" r="2.35" fill="#000"/>
<circle cx="210.23" cy="304.1" r="2.35" fill="#000"/>
<circle cx="223.16" cy="283.8" r="2.35" fill="#000"/>
<circle cx="236.09" cy="291.7" r="2.35" fill="#000"/>
<circle cx="249.02" cy="264.2" r="2.35" fill="#000"/>
<circle cx="261.95" cy="283.8" r="2.35" fill="#000"/>
<circle cx="274.88" cy="282.8" r="2.35" fill="#000"/>
<circle cx="287.81" cy="282.8" r="2.35" fill="#000"/>
<circle cx="300.74" cy="301.7" r="2.35" fill="#000"/>
<circle cx="313.67" cy="258.2" r="2.35" fill="#000"/>
<circle cx="326.6" cy="342.6" r="2.35" fill="#000"/>
<polygon points="197.3,248.83 199.46,249.85 201.61,250.87 203.77,251.88 205.92,252.89 208.08,253.88 210.23,254.87 212.39,255.84 214.54,256.8 216.7,257.75 218.85,258.69 221,259.62 223.16,260.52 225.31,261.42 227.47,262.29 229.62,263.14 231.78,263.98 233.94,264.79 236.09,265.57 238.25,266.34 240.4,267.07 242.56,267.77 244.71,268.44 246.87,269.08 249.02,269.68 251.18,270.24 253.33,270.76 255.49,271.24 257.64,271.68 259.8,272.08 261.95,272.44 264.11,272.75 266.26,273.02 268.42,273.24 270.57,273.43 272.73,273.57 274.88,273.67 277.04,273.74 279.19,273.77 281.35,273.77 283.5,273.73 285.65,273.66 287.81,273.57 289.97,273.45 292.12,273.31 294.27,273.14 296.43,272.95 298.59,272.74 300.74,272.52 302.89,272.27 305.05,272.02 307.21,271.75 309.36,271.46 311.51,271.16 313.67,270.86 315.82,270.54 317.98,270.21 320.13,269.87 322.29,269.53 324.45,269.18 326.6,268.82 326.6,327.32 324.45,326.29 322.29,325.27 320.13,324.26 317.98,323.26 315.82,322.26 313.67,321.28 311.51,320.31 309.36,319.34 307.21,318.39 305.05,317.45 302.89,316.53 300.74,315.62 298.59,314.73 296.43,313.86 294.27,313 292.12,312.17 289.97,311.36 287.81,310.57 285.65,309.81 283.5,309.08 281.35,308.38 279.19,307.71 277.04,307.07 274.88,306.47 272.73,305.91 270.57,305.38 268.42,304.9 266.26,304.46 264.11,304.06 261.95,303.71 259.8,303.4 257.64,303.13 255.49,302.9 253.33,302.72 251.18,302.58 249.02,302.47 246.87,302.41 244.71,302.38 242.56,302.38 240.4,302.42 238.25,302.48 236.09,302.58 233.94,302.7 231.78,302.84 229.62,303.01 227.47,303.2 225.31,303.4 223.16,303.63 221,303.87 218.85,304.13 216.7,304.4 214.54,304.68 212.39,304.98 210.23,305.29 208.08,305.61 205.92,305.94 203.77,306.27 201.61,306.62 199.46,306.97 197.3,307.33" fill="#999999" fill-opacity="0.4"/>
<polygon points="197.3,268.21 199.46,268.67 201.61,269.13 203.77,269.57 205.92,269.99 208.08,270.4 210.23,270.79 212.39,271.15 214.54,271.5 216.7,271.82 218.85,272.12 221,272.4 223.16,272.65 225.31,272.88 227.47,273.08 229.62,273.26 231.78,273.42 233.94,273.55 236.09,273.67 238.25,273.77 240.4,273.86 242.56,273.93 244.71,273.99 246.87,274.03 249.02,274.07 251.18,274.09 253.33,274.11 255.49,274.12 257.64,274.12 259.8,274.12 261.95,274.11 264.11,274.09 266.26,274.08 268.42,274.05 270.57,274.03 272.73,274 274.88,273.96 277.04,273.93 279.19,273.89 281.35,273.85 283.5,273.81 285.65,273.76 287.81,273.72 289.97,273.67 292.12,273.62 294.27,273.57 296.43,273.52 298.59,273.47 300.74,273.41 302.89,273.36 305.05,273.3 307.21,273.24 309.36,273.19 311.51,273.13 313.67,273.07 315.82,273.01 317.98,272.95 320.13,272.89 322.29,272.82 324.45,272.76 326.6,272.7 326.6,306.86 324.45,306.28 322.29,305.7 320.13,305.11 317.98,304.53 315.82,303.95 313.67,303.37 311.51,302.78 309.36,302.2 307.21,301.63 305.05,301.05 302.89,300.47 300.74,299.89 298.59,299.32 296.43,298.74 294.27,298.17 292.12,297.6 289.97,297.03 287.81,296.46 285.65,295.89 283.5,295.32 281.35,294.76 279.19,294.2 277.04,293.64 274.88,293.08 272.73,292.53 270.57,291.98 268.42,291.43 266.26,290.88 264.11,290.34 261.95,289.81 259.8,289.28 257.64,288.75 255.49,288.23 253.33,287.72 251.18,287.22 249.02,286.72 246.87,286.23 244.71,285.76 242.56,285.29 240.4,284.84 238.25,284.4 236.09,283.98 233.94,283.58 231.78,283.2 229.62,282.83 227.47,282.49 225.31,282.17 223.16,281.88 221,281.61 218.85,281.36 216.7,281.14 214.54,280.94 212.39,280.76 210.23,280.61 208.08,280.48 205.92,280.36 203.77,280.27 201.61,280.18 199.46,280.12 197.3,280.06" fill="#999999" fill-opacity="0.4"/>
<line x1="197.3" y1="278.08" x2="326.6" y2="298.07" stroke="#262626" stroke-width="1.3"/>
<line x1="197.3" y1="274.13" x2="326.6" y2="289.78" stroke="#ff0000" stroke-width="1.4" stroke-dasharray="3.7 3.7"/>
<line x1="190.6" y1="199" x2="190.6" y2="350.3" stroke="#000" stroke-width="0.6"/>
<line x1="190.3" y1="350" x2="333" y2="350" stroke="#000" stroke-width="0.6"/>
<line x1="188" y1="312.4" x2="190.6" y2="312.4" stroke="#333" stroke-width="0.6"/>
<text x="186.8" y="314.8" text-anchor="end" class="tk">3</text>
<line x1="188" y1="272.95" x2="190.6" y2="272.95" stroke="#333" stroke-width="0.6"/>
<text x="186.8" y="275.35" text-anchor="end" class="tk">6</text>
<line x1="188" y1="233.5" x2="190.6" y2="233.5" stroke="#333" stroke-width="0.6"/>
<text x="186.8" y="235.9" text-anchor="end" class="tk">9</text>
<line x1="197.3" y1="350" x2="197.3" y2="352.6" stroke="#333" stroke-width="0.6"/>
<text x="197.3" y="359.2" text-anchor="middle" class="tk">0.0</text>
<line x1="229.62" y1="350" x2="229.62" y2="352.6" stroke="#333" stroke-width="0.6"/>
<text x="229.62" y="359.2" text-anchor="middle" class="tk">2.5</text>
<line x1="261.95" y1="350" x2="261.95" y2="352.6" stroke="#333" stroke-width="0.6"/>
<text x="261.95" y="359.2" text-anchor="middle" class="tk">5.0</text>
<line x1="294.27" y1="350" x2="294.27" y2="352.6" stroke="#333" stroke-width="0.6"/>
<text x="294.27" y="359.2" text-anchor="middle" class="tk">7.5</text>
<line x1="326.6" y1="350" x2="326.6" y2="352.6" stroke="#333" stroke-width="0.6"/>
<text x="326.6" y="359.2" text-anchor="middle" class="tk">10.0</text>
<text x="262" y="194.2" text-anchor="middle" class="ti">Diarrhoea AE Duration</text>
<text x="262" y="208.7" text-anchor="middle" class="an" fill="#000000" stroke="#000000">Group: p=0.385, R^2=0.085</text>
<text x="262" y="221.8" text-anchor="middle" class="an" fill="#000000" stroke="#000000">slope=−0.152 (95% CI −0.528−0.224)</text>
<text x="262" y="241.65" text-anchor="middle" class="an" fill="#ff0000" stroke="#ff0000">Individual: p=0.13, R^2=0.01</text>
<text x="262" y="254.75" text-anchor="middle" class="an" fill="#ff0000" stroke="#ff0000">slope=−0.119 (95% CI −0.272−0.035)</text>
<text x="262" y="366.8" text-anchor="middle" class="al">Total Duration of Diarrhoea AEs (days)</text>
<text transform="translate(178.8,274.4) rotate(-90)" text-anchor="middle" class="al" textLength="78.2" lengthAdjust="spacingAndGlyphs">log(<tspan font-style="italic">P. stercorea</tspan> ) at D85</text>
<circle cx="370.8" cy="274.6" r="2.35" fill="#000"/>
<circle cx="376.98" cy="260.3" r="2.35" fill="#000"/>
<circle cx="383.16" cy="287.4" r="2.35" fill="#000"/>
<circle cx="389.34" cy="289.2" r="2.35" fill="#000"/>
<circle cx="395.52" cy="279.2" r="2.35" fill="#000"/>
<circle cx="401.7" cy="293.1" r="2.35" fill="#000"/>
<circle cx="407.88" cy="286" r="2.35" fill="#000"/>
<circle cx="414.06" cy="287.4" r="2.35" fill="#000"/>
<circle cx="420.24" cy="278.5" r="2.35" fill="#000"/>
<circle cx="426.42" cy="291.7" r="2.35" fill="#000"/>
<circle cx="432.6" cy="269.9" r="2.35" fill="#000"/>
<circle cx="438.78" cy="303.4" r="2.35" fill="#000"/>
<circle cx="444.96" cy="254.3" r="2.35" fill="#000"/>
<circle cx="451.14" cy="255" r="2.35" fill="#000"/>
<circle cx="457.32" cy="282.4" r="2.35" fill="#000"/>
<circle cx="463.5" cy="294.5" r="2.35" fill="#000"/>
<circle cx="469.68" cy="251.8" r="2.35" fill="#000"/>
<circle cx="475.86" cy="318.8" r="2.35" fill="#000"/>
<circle cx="482.04" cy="343" r="2.35" fill="#000"/>
<circle cx="488.22" cy="258.9" r="2.35" fill="#000"/>
<circle cx="500.58" cy="343" r="2.35" fill="#000"/>
<polygon points="370.8,250.54 372.96,251.56 375.13,252.58 377.29,253.59 379.45,254.59 381.62,255.59 383.78,256.57 385.94,257.55 388.1,258.52 390.27,259.48 392.43,260.43 394.59,261.37 396.76,262.29 398.92,263.2 401.08,264.1 403.25,264.98 405.41,265.84 407.57,266.68 409.73,267.5 411.9,268.3 414.06,269.07 416.22,269.82 418.39,270.53 420.55,271.22 422.71,271.88 424.88,272.5 427.04,273.09 429.2,273.64 431.36,274.16 433.53,274.64 435.69,275.08 437.85,275.49 440.02,275.86 442.18,276.19 444.34,276.49 446.5,276.76 448.67,277 450.83,277.21 452.99,277.39 455.16,277.55 457.32,277.68 459.48,277.8 461.65,277.89 463.81,277.96 465.97,278.02 468.13,278.06 470.3,278.08 472.46,278.09 474.62,278.09 476.79,278.08 478.95,278.06 481.11,278.03 483.28,277.99 485.44,277.94 487.6,277.88 489.76,277.82 491.93,277.75 494.09,277.68 496.25,277.6 498.42,277.51 500.58,277.43 500.58,323.78 498.42,322.74 496.25,321.71 494.09,320.69 491.93,319.67 489.76,318.66 487.6,317.65 485.44,316.65 483.28,315.66 481.11,314.68 478.95,313.7 476.79,312.73 474.62,311.78 472.46,310.83 470.3,309.9 468.13,308.98 465.97,308.08 463.81,307.19 461.65,306.32 459.48,305.47 457.32,304.63 455.16,303.82 452.99,303.04 450.83,302.27 448.67,301.54 446.5,300.84 444.34,300.16 442.18,299.52 440.02,298.91 437.85,298.34 435.69,297.8 433.53,297.3 431.36,296.83 429.2,296.4 427.04,296.01 424.88,295.66 422.71,295.34 420.55,295.05 418.39,294.79 416.22,294.57 414.06,294.37 411.9,294.2 409.73,294.05 407.57,293.92 405.41,293.82 403.25,293.74 401.08,293.67 398.92,293.62 396.76,293.59 394.59,293.57 392.43,293.56 390.27,293.57 388.1,293.58 385.94,293.61 383.78,293.65 381.62,293.69 379.45,293.74 377.29,293.8 375.13,293.86 372.96,293.93 370.8,294.01" fill="#999999" fill-opacity="0.4"/>
<polygon points="370.8,272.81 372.96,273.5 375.13,274.19 377.29,274.86 379.45,275.51 381.62,276.14 383.78,276.74 385.94,277.32 388.1,277.88 390.27,278.41 392.43,278.91 394.59,279.37 396.76,279.82 398.92,280.23 401.08,280.62 403.25,280.98 405.41,281.32 407.57,281.65 409.73,281.95 411.9,282.25 414.06,282.52 416.22,282.79 418.39,283.05 420.55,283.3 422.71,283.54 424.88,283.77 427.04,284 429.2,284.23 431.36,284.45 433.53,284.66 435.69,284.88 437.85,285.08 440.02,285.29 442.18,285.49 444.34,285.7 446.5,285.89 448.67,286.09 450.83,286.29 452.99,286.48 455.16,286.68 457.32,286.87 459.48,287.06 461.65,287.25 463.81,287.44 465.97,287.62 468.13,287.81 470.3,288 472.46,288.18 474.62,288.37 476.79,288.55 478.95,288.73 481.11,288.92 483.28,289.1 485.44,289.28 487.6,289.46 489.76,289.64 491.93,289.82 494.09,290.01 496.25,290.19 498.42,290.37 500.58,290.54 500.58,323.49 498.42,322.68 496.25,321.88 494.09,321.07 491.93,320.27 489.76,319.47 487.6,318.66 485.44,317.86 483.28,317.06 481.11,316.26 478.95,315.46 476.79,314.66 474.62,313.86 472.46,313.06 470.3,312.26 468.13,311.46 465.97,310.66 463.81,309.87 461.65,309.07 459.48,308.28 457.32,307.48 455.16,306.69 452.99,305.9 450.83,305.11 448.67,304.32 446.5,303.53 444.34,302.75 442.18,301.97 440.02,301.19 437.85,300.41 435.69,299.63 433.53,298.86 431.36,298.09 429.2,297.33 427.04,296.57 424.88,295.81 422.71,295.06 420.55,294.32 418.39,293.59 416.22,292.86 414.06,292.14 411.9,291.44 409.73,290.74 407.57,290.07 405.41,289.41 403.25,288.77 401.08,288.15 398.92,287.55 396.76,286.98 394.59,286.43 392.43,285.92 390.27,285.43 388.1,284.98 385.94,284.55 383.78,284.15 381.62,283.77 379.45,283.41 377.29,283.08 375.13,282.76 372.96,282.46 370.8,282.18" fill="#999999" fill-opacity="0.4"/>
<line x1="370.8" y1="272.28" x2="500.58" y2="300.6" stroke="#262626" stroke-width="1.3"/>
<line x1="370.8" y1="277.49" x2="500.58" y2="307.02" stroke="#ff0000" stroke-width="1.4" stroke-dasharray="3.7 3.7"/>
<line x1="364.3" y1="199" x2="364.3" y2="350.3" stroke="#000" stroke-width="0.6"/>
<line x1="364" y1="350" x2="506.8" y2="350" stroke="#000" stroke-width="0.6"/>
<line x1="361.7" y1="343.1" x2="364.3" y2="343.1" stroke="#333" stroke-width="0.6"/>
<text x="360.5" y="345.5" text-anchor="end" class="tk">0.0</text>
<line x1="361.7" y1="314.53" x2="364.3" y2="314.53" stroke="#333" stroke-width="0.6"/>
<text x="360.5" y="316.93" text-anchor="end" class="tk">2.5</text>
<line x1="361.7" y1="285.95" x2="364.3" y2="285.95" stroke="#333" stroke-width="0.6"/>
<text x="360.5" y="288.35" text-anchor="end" class="tk">5.0</text>
<line x1="361.7" y1="257.38" x2="364.3" y2="257.38" stroke="#333" stroke-width="0.6"/>
<text x="360.5" y="259.77" text-anchor="end" class="tk">7.5</text>
<line x1="361.7" y1="228.8" x2="364.3" y2="228.8" stroke="#333" stroke-width="0.6"/>
<text x="360.5" y="231.2" text-anchor="end" class="tk">10.0</text>
<line x1="361.7" y1="200.23" x2="364.3" y2="200.23" stroke="#333" stroke-width="0.6"/>
<text x="360.5" y="202.63" text-anchor="end" class="tk">12.5</text>
<line x1="370.8" y1="350" x2="370.8" y2="352.6" stroke="#333" stroke-width="0.6"/>
<text x="370.8" y="359.2" text-anchor="middle" class="tk">0</text>
<line x1="401.7" y1="350" x2="401.7" y2="352.6" stroke="#333" stroke-width="0.6"/>
<text x="401.7" y="359.2" text-anchor="middle" class="tk">5</text>
<line x1="432.6" y1="350" x2="432.6" y2="352.6" stroke="#333" stroke-width="0.6"/>
<text x="432.6" y="359.2" text-anchor="middle" class="tk">10</text>
<line x1="463.5" y1="350" x2="463.5" y2="352.6" stroke="#333" stroke-width="0.6"/>
<text x="463.5" y="359.2" text-anchor="middle" class="tk">15</text>
<line x1="494.4" y1="350" x2="494.4" y2="352.6" stroke="#333" stroke-width="0.6"/>
<text x="494.4" y="359.2" text-anchor="middle" class="tk">20</text>
<text x="435.7" y="194.2" text-anchor="middle" class="ti">ARI AE Duration</text>
<text x="435.7" y="208.7" text-anchor="middle" class="an" fill="#000000" stroke="#000000">Group: p=0.142, R^2=0.11</text>
<text x="435.7" y="219.6" text-anchor="middle" class="an" fill="#000000" stroke="#000000">slope=−0.118 (95% CI −0.28−0.043)</text>
<text x="435.7" y="237.05" text-anchor="middle" class="an" fill="#ff0000" stroke="#ff0000">Individual: p=0.00266, R^2=0.026</text>
<text x="435.7" y="248.65" text-anchor="middle" class="an" fill="#ff0000" stroke="#ff0000">slope=−0.123 (95% CI −0.203−−0.043)</text>
<text x="435.7" y="366.8" text-anchor="middle" class="al">Total Duration of ARI AEs (days)</text>
<text transform="translate(343,274.4) rotate(-90)" text-anchor="middle" class="al" textLength="78.2" lengthAdjust="spacingAndGlyphs">log(<tspan font-style="italic">P. stercorea</tspan> ) at D85</text>
<circle cx="544.6" cy="273.9" r="2.35" fill="#000"/>
<circle cx="550.5" cy="259.2" r="2.35" fill="#000"/>
<circle cx="556.39" cy="285.3" r="2.35" fill="#000"/>
<circle cx="562.28" cy="289.5" r="2.35" fill="#000"/>
<circle cx="568.18" cy="272.8" r="2.35" fill="#000"/>
<circle cx="574.08" cy="284.2" r="2.35" fill="#000"/>
<circle cx="579.97" cy="277.4" r="2.35" fill="#000"/>
<circle cx="585.87" cy="292.7" r="2.35" fill="#000"/>
<circle cx="591.76" cy="281" r="2.35" fill="#000"/>
<circle cx="597.65" cy="290.2" r="2.35" fill="#000"/>
<circle cx="603.55" cy="277.8" r="2.35" fill="#000"/>
<circle cx="609.45" cy="308.1" r="2.35" fill="#000"/>
<circle cx="615.34" cy="253.2" r="2.35" fill="#000"/>
<circle cx="621.24" cy="276" r="2.35" fill="#000"/>
<circle cx="627.13" cy="293.5" r="2.35" fill="#000"/>
<circle cx="633.02" cy="258.9" r="2.35" fill="#000"/>
<circle cx="638.92" cy="252.1" r="2.35" fill="#000"/>
<circle cx="644.82" cy="318.4" r="2.35" fill="#000"/>
<circle cx="650.71" cy="343" r="2.35" fill="#000"/>
<circle cx="674.29" cy="253.9" r="2.35" fill="#000"/>
<polygon points="544.6,256.84 546.76,257.57 548.92,258.3 551.08,259.02 553.25,259.73 555.41,260.43 557.57,261.13 559.73,261.81 561.89,262.48 564.05,263.14 566.22,263.79 568.38,264.42 570.54,265.04 572.7,265.64 574.86,266.22 577.02,266.78 579.18,267.31 581.35,267.83 583.51,268.31 585.67,268.77 587.83,269.19 589.99,269.58 592.15,269.94 594.31,270.26 596.48,270.55 598.64,270.79 600.8,270.99 602.96,271.15 605.12,271.28 607.28,271.36 609.45,271.4 611.61,271.41 613.77,271.38 615.93,271.31 618.09,271.22 620.25,271.09 622.41,270.94 624.58,270.76 626.74,270.55 628.9,270.32 631.06,270.08 633.22,269.81 635.38,269.53 637.54,269.23 639.71,268.92 641.87,268.6 644.03,268.26 646.19,267.91 648.35,267.56 650.51,267.19 652.67,266.82 654.84,266.43 657,266.05 659.16,265.65 661.32,265.25 663.48,264.84 665.64,264.43 667.81,264.02 669.97,263.6 672.13,263.17 674.29,262.74 674.29,312.83 672.13,312.06 669.97,311.29 667.81,310.53 665.64,309.78 663.48,309.03 661.32,308.28 659.16,307.54 657,306.8 654.84,306.07 652.67,305.35 650.51,304.64 648.35,303.93 646.19,303.23 644.03,302.55 641.87,301.87 639.71,301.21 637.54,300.55 635.38,299.92 633.22,299.29 631.06,298.69 628.9,298.1 626.74,297.53 624.58,296.99 622.41,296.47 620.25,295.97 618.09,295.51 615.93,295.07 613.77,294.66 611.61,294.29 609.45,293.96 607.28,293.66 605.12,293.41 602.96,293.19 600.8,293.01 598.64,292.87 596.48,292.78 594.31,292.72 592.15,292.7 589.99,292.72 587.83,292.77 585.67,292.85 583.51,292.97 581.35,293.11 579.18,293.29 577.02,293.48 574.86,293.7 572.7,293.94 570.54,294.2 568.38,294.48 566.22,294.77 564.05,295.07 561.89,295.39 559.73,295.73 557.57,296.07 555.41,296.42 553.25,296.79 551.08,297.16 548.92,297.54 546.76,297.92 544.6,298.31" fill="#999999" fill-opacity="0.4"/>
<polygon points="544.6,272.41 546.76,272.99 548.92,273.57 551.08,274.14 553.25,274.69 555.41,275.23 557.57,275.75 559.73,276.25 561.89,276.72 564.05,277.16 566.22,277.58 568.38,277.95 570.54,278.29 572.7,278.59 574.86,278.86 577.02,279.09 579.18,279.29 581.35,279.47 583.51,279.62 585.67,279.76 587.83,279.88 589.99,279.99 592.15,280.08 594.31,280.17 596.48,280.25 598.64,280.32 600.8,280.39 602.96,280.46 605.12,280.52 607.28,280.57 609.45,280.63 611.61,280.68 613.77,280.73 615.93,280.78 618.09,280.82 620.25,280.86 622.41,280.91 624.58,280.95 626.74,280.99 628.9,281.03 631.06,281.07 633.22,281.1 635.38,281.14 637.54,281.18 639.71,281.21 641.87,281.25 644.03,281.28 646.19,281.31 648.35,281.35 650.51,281.38 652.67,281.41 654.84,281.44 657,281.48 659.16,281.51 661.32,281.54 663.48,281.57 665.64,281.6 667.81,281.63 669.97,281.66 672.13,281.69 674.29,281.72 674.29,312.23 672.13,311.59 669.97,310.95 667.81,310.31 665.64,309.66 663.48,309.02 661.32,308.38 659.16,307.74 657,307.1 654.84,306.46 652.67,305.82 650.51,305.18 648.35,304.54 646.19,303.9 644.03,303.27 641.87,302.63 639.71,301.99 637.54,301.35 635.38,300.72 633.22,300.08 631.06,299.45 628.9,298.81 626.74,298.18 624.58,297.55 622.41,296.92 620.25,296.29 618.09,295.66 615.93,295.03 613.77,294.41 611.61,293.79 609.45,293.16 607.28,292.55 605.12,291.93 602.96,291.32 600.8,290.71 598.64,290.11 596.48,289.51 594.31,288.92 592.15,288.33 589.99,287.76 587.83,287.2 585.67,286.64 583.51,286.11 581.35,285.59 579.18,285.09 577.02,284.62 574.86,284.18 572.7,283.78 570.54,283.41 568.38,283.07 566.22,282.78 564.05,282.52 561.89,282.29 559.73,282.09 557.57,281.92 555.41,281.76 553.25,281.63 551.08,281.51 548.92,281.41 546.76,281.31 544.6,281.22" fill="#999999" fill-opacity="0.4"/>
<line x1="544.6" y1="277.58" x2="674.29" y2="287.79" stroke="#262626" stroke-width="1.3"/>
<line x1="544.6" y1="276.82" x2="674.29" y2="296.98" stroke="#ff0000" stroke-width="1.4" stroke-dasharray="3.7 3.7"/>
<line x1="538.4" y1="199" x2="538.4" y2="350.3" stroke="#000" stroke-width="0.6"/>
<line x1="538.1" y1="350" x2="680.8" y2="350" stroke="#000" stroke-width="0.6"/>
<line x1="535.8" y1="343.4" x2="538.4" y2="343.4" stroke="#333" stroke-width="0.6"/>
<text x="534.6" y="345.8" text-anchor="end" class="tk">0.0</text>
<line x1="535.8" y1="314.4" x2="538.4" y2="314.4" stroke="#333" stroke-width="0.6"/>
<text x="534.6" y="316.8" text-anchor="end" class="tk">2.5</text>
<line x1="535.8" y1="285.4" x2="538.4" y2="285.4" stroke="#333" stroke-width="0.6"/>
<text x="534.6" y="287.8" text-anchor="end" class="tk">5.0</text>
<line x1="535.8" y1="256.4" x2="538.4" y2="256.4" stroke="#333" stroke-width="0.6"/>
<text x="534.6" y="258.8" text-anchor="end" class="tk">7.5</text>
<line x1="535.8" y1="227.4" x2="538.4" y2="227.4" stroke="#333" stroke-width="0.6"/>
<text x="534.6" y="229.8" text-anchor="end" class="tk">10.0</text>
<line x1="544.6" y1="350" x2="544.6" y2="352.6" stroke="#333" stroke-width="0.6"/>
<text x="544.6" y="359.2" text-anchor="middle" class="tk">0</text>
<line x1="574.08" y1="350" x2="574.08" y2="352.6" stroke="#333" stroke-width="0.6"/>
<text x="574.08" y="359.2" text-anchor="middle" class="tk">5</text>
<line x1="603.55" y1="350" x2="603.55" y2="352.6" stroke="#333" stroke-width="0.6"/>
<text x="603.55" y="359.2" text-anchor="middle" class="tk">10</text>
<line x1="633.02" y1="350" x2="633.02" y2="352.6" stroke="#333" stroke-width="0.6"/>
<text x="633.02" y="359.2" text-anchor="middle" class="tk">15</text>
<line x1="662.5" y1="350" x2="662.5" y2="352.6" stroke="#333" stroke-width="0.6"/>
<text x="662.5" y="359.2" text-anchor="middle" class="tk">20</text>
<text x="609.7" y="194.2" text-anchor="middle" class="ti">Fever AE Duration</text>
<text x="609.7" y="208.7" text-anchor="middle" class="an" fill="#000000" stroke="#000000">Group: p=0.597, R^2=0.016</text>
<text x="609.7" y="220.15" text-anchor="middle" class="an" fill="#000000" stroke="#000000">slope=−0.04 (95% CI −0.197−0.117)</text>
<text x="609.7" y="237.35" text-anchor="middle" class="an" fill="#ff0000" stroke="#ff0000">Individual: p=0.0339, R^2=0.012</text>
<text x="609.7" y="248.65" text-anchor="middle" class="an" fill="#ff0000" stroke="#ff0000">slope=−0.079 (95% CI −0.152−−0.006)</text>
<text x="609.7" y="366.8" text-anchor="middle" class="al">Total Duration of Fever AEs (days)</text>
<text transform="translate(517,274.4) rotate(-90)" text-anchor="middle" class="al" textLength="78.2" lengthAdjust="spacingAndGlyphs">log(<tspan font-style="italic">P. stercorea</tspan> ) at D85</text>
</svg>
</body></html>
